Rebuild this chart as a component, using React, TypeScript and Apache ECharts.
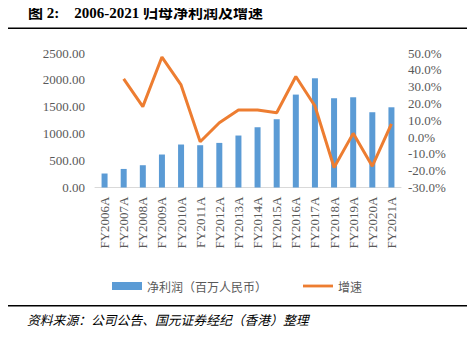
import React, { useEffect, useRef } from "react";
import * as echarts from "echarts";

const categories = [
  "FY2006A", "FY2007A", "FY2008A", "FY2009A", "FY2010A", "FY2011A", "FY2012A", "FY2013A",
  "FY2014A", "FY2015A", "FY2016A", "FY2017A", "FY2018A", "FY2019A", "FY2020A", "FY2021A",
];
const netProfit = [260, 345, 414, 613, 799, 786, 829, 966, 1120, 1269, 1727, 2030, 1659, 1677, 1399, 1491];
const growth = [null, 34.6, 18.1, 47.6, 31.0, -2.8, 8.5, 16.1, 16.1, 14.5, 36.0, 18.5, -18.1, 2.2, -17.3, 7.8];
const leftTicks = { min: 0, max: 2500, interval: 500 };
const rightTicks = { min: -30, max: 50, interval: 10 };

const SERIF = "'Liberation Serif', 'Times New Roman', serif";
const CJK = "'Noto Sans CJK SC', sans-serif";

export default function App() {
  const ref = useRef<HTMLDivElement>(null);
  useEffect(() => {
    if (!ref.current) return;
    const chart = echarts.init(ref.current, null, { renderer: "svg" });
    chart.setOption({
      animation: false,
      backgroundColor: "#ffffff",
      grid: { left: 95, top: 53, width: 306, height: 134.5, containLabel: false },
      legend: {
        left: 107,
        top: 275,
        itemWidth: 30,
        itemHeight: 8,
        itemGap: 36,
        textStyle: { fontFamily: CJK, fontSize: 12, color: "#595959", padding: [0, 0, 0, 0] },
        data: [
          { name: "净利润（百万人民币）", icon: "rect" },
          { name: "增速", icon: "path://M0,0 L32,0 L32,3 L0,3 Z", itemStyle: { color: "#ED7D31" } },
        ],
      },
      xAxis: {
        type: "category",
        data: categories,
        axisLine: { lineStyle: { color: "#D9D9D9", width: 1 } },
        axisTick: { show: false },
        axisLabel: {
          rotate: 90,
          fontFamily: SERIF,
          fontSize: 13,
          color: "#595959",
          margin: 9,
          interval: 0,
        },
      },
      yAxis: [
        {
          type: "value",
          min: leftTicks.min,
          max: leftTicks.max,
          interval: leftTicks.interval,
          splitLine: { show: false },
          axisLine: { show: false },
          axisTick: { show: false },
          axisLabel: {
            fontFamily: SERIF,
            fontSize: 13,
            color: "#595959",
            margin: 10,
            formatter: (v: number) => v.toFixed(2),
          },
        },
        {
          type: "value",
          min: rightTicks.min,
          max: rightTicks.max,
          interval: rightTicks.interval,
          splitLine: { show: false },
          axisLine: { show: false },
          axisTick: { show: false },
          axisLabel: {
            fontFamily: SERIF,
            fontSize: 13,
            color: "#595959",
            margin: 7,
            formatter: (v: number) => v.toFixed(1) + "%",
          },
        },
      ],
      series: [
        {
          name: "净利润（百万人民币）",
          type: "bar",
          data: netProfit,
          barWidth: 6,
          itemStyle: { color: "#5B9BD5" },
        },
        {
          name: "增速",
          type: "line",
          yAxisIndex: 1,
          data: growth,
          symbol: "none",
          showSymbol: false,
          lineStyle: { color: "#ED7D31", width: 3 },
          itemStyle: { color: "#ED7D31" },
        },
      ],
      graphic: [
        {
          type: "text",
          left: 28,
          top: 5,
          style: {
            text: "图 2:    2006-2021 归母净利润及增速",
            font: "bold 15px 'Liberation Serif', 'Noto Sans CJK SC', serif",
            fill: "#000000",
          },
        },
        { type: "rect", shape: { x: 0, y: 27.5, width: 475, height: 1.6 }, style: { fill: "#000000" } },
        { type: "rect", shape: { x: 0, y: 305, width: 475, height: 1.4 }, style: { fill: "#000000" } },
        {
          type: "text",
          left: 27,
          top: 313,
          style: {
            text: "资料来源：公司公告、国元证券经纪（香港）整理",
            font: "italic 12.8px 'Noto Sans CJK SC', sans-serif",
            fill: "#000000",
          },
        },
        {
          type: "text",
          left: -4,
          top: 181,
          style: { text: "%", font: "12px 'Liberation Serif', serif", fill: "#808080" },
        },
      ],
    });
    return () => chart.dispose();
  }, []);
  return <div ref={ref} style={{ width: 475, height: 337, margin: -8 }} />;
}
